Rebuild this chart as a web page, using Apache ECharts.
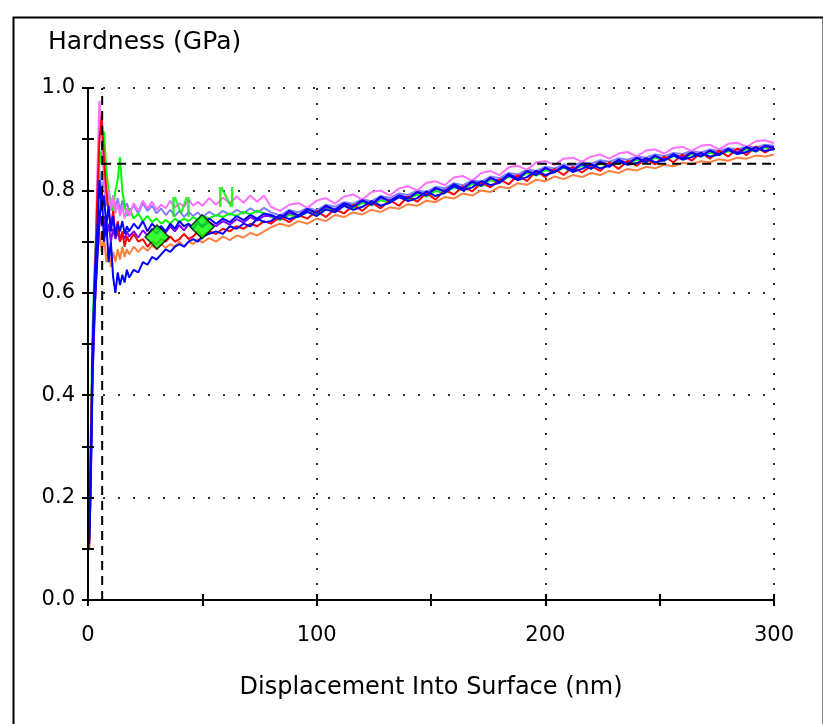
<!DOCTYPE html>
<html><head><meta charset="utf-8">
<script src="https://cdn.jsdelivr.net/npm/echarts@6/dist/echarts.min.js"></script>
<style>html,body{margin:0;padding:0;background:#fff}#c{width:823px;height:724px}</style>
</head><body><div id="c"></div>
<script>
// Displacement into surface (nm) sample positions shared by all indents
const depth = [0.5,1,1.5,2,3,4,5,6,7,8,9,10,11,12,13,14,15,16,17,18,
  20,22,24,26,28,30,32,34,36,38,40,42,44,46,48,50,
  53,56,59,62,65,68,71,74,77,
  80,84,88,92,96,100,104,108,112,116,120,124,128,132,136,140,144,148,152,156,
  160,164,168,172,176,180,184,188,192,196,200,204,208,212,216,220,224,228,232,236,
  240,244,248,252,256,260,264,268,272,276,280,284,288,292,296,300];

// Hardness (GPa) per indent
const lavender = [0.12,0.2,0.33,0.47,0.63,0.74,0.84,0.79,0.83,0.77,0.80,0.76,0.79,0.765,0.785,0.76,0.78,0.765,0.775,0.76,
  0.77,0.755,0.775,0.76,0.77,0.755,0.765,0.752,0.762,0.75,0.76,0.748,0.758,0.75,0.757,0.748,
  0.758,0.75,0.76,0.752,0.762,0.755,0.765,0.757,0.766,
  0.757,0.751,0.762,0.757,0.766,0.761,0.772,0.768,0.777,0.774,0.783,0.779,0.789,0.785,0.794,0.791,0.800,0.797,0.807,0.804,
  0.814,0.810,0.820,0.817,0.827,0.824,0.834,0.831,0.841,0.838,0.846,0.843,0.851,0.848,0.855,0.852,0.859,0.856,0.863,0.860,
  0.866,0.864,0.870,0.867,0.873,0.871,0.877,0.874,0.880,0.877,0.883,0.880,0.886,0.884,0.889,0.887];
const green = [0.12,0.26,0.40,0.53,0.66,0.77,0.85,0.88,0.915,0.84,0.80,0.78,0.76,0.80,0.82,0.865,0.80,0.77,0.75,0.765,
  0.745,0.755,0.74,0.75,0.738,0.745,0.735,0.742,0.735,0.745,0.738,0.745,0.74,0.748,0.742,0.75,
  0.745,0.752,0.748,0.755,0.75,0.758,0.753,0.76,0.755,
  0.748,0.742,0.752,0.748,0.758,0.753,0.764,0.759,0.770,0.765,0.776,0.771,0.781,0.776,0.787,0.782,0.792,0.788,0.799,0.795,
  0.806,0.801,0.813,0.808,0.820,0.815,0.827,0.822,0.834,0.829,0.840,0.835,0.844,0.840,0.848,0.843,0.852,0.847,0.856,0.851,
  0.860,0.855,0.864,0.858,0.867,0.862,0.871,0.866,0.874,0.869,0.877,0.872,0.881,0.876,0.884,0.879];
const magenta = [0.13,0.22,0.32,0.44,0.62,0.82,0.975,0.90,0.82,0.78,0.80,0.76,0.79,0.755,0.775,0.75,0.77,0.745,0.765,0.75,
  0.775,0.76,0.78,0.765,0.778,0.762,0.772,0.765,0.78,0.766,0.775,0.768,0.782,0.77,0.778,0.77,
  0.785,0.772,0.786,0.775,0.788,0.776,0.79,0.778,0.79,
  0.768,0.760,0.772,0.775,0.766,0.780,0.785,0.774,0.788,0.792,0.782,0.797,0.800,0.790,0.804,0.808,0.800,0.815,0.818,0.810,
  0.825,0.828,0.819,0.834,0.838,0.830,0.845,0.848,0.840,0.855,0.857,0.850,0.862,0.864,0.856,0.866,0.870,0.862,0.872,0.875,
  0.866,0.878,0.880,0.872,0.883,0.885,0.877,0.887,0.889,0.880,0.891,0.893,0.885,0.896,0.898,0.892];
const orange = [0.10,0.2,0.34,0.46,0.58,0.66,0.72,0.68,0.71,0.66,0.69,0.65,0.68,0.66,0.685,0.665,0.69,0.67,0.685,0.675,
  0.69,0.68,0.69,0.682,0.692,0.685,0.695,0.688,0.695,0.69,0.70,0.69,0.70,0.695,0.705,0.698,
  0.707,0.70,0.71,0.703,0.712,0.708,0.717,0.712,0.72,
  0.728,0.735,0.730,0.740,0.735,0.745,0.740,0.752,0.748,0.757,0.753,0.762,0.758,0.767,0.764,0.773,0.770,0.780,0.777,0.787,
  0.784,0.794,0.790,0.800,0.797,0.807,0.804,0.814,0.811,0.821,0.818,0.827,0.822,0.830,0.826,0.834,0.830,0.838,0.834,0.842,
  0.839,0.846,0.843,0.850,0.847,0.854,0.851,0.857,0.855,0.861,0.858,0.864,0.862,0.868,0.866,0.870];
const purple = [0.11,0.19,0.31,0.43,0.57,0.68,0.76,0.73,0.75,0.71,0.735,0.70,0.725,0.705,0.72,0.70,0.715,0.705,0.72,0.71,
  0.72,0.708,0.722,0.712,0.725,0.715,0.728,0.718,0.73,0.72,0.732,0.722,0.734,0.725,0.736,0.728,
  0.738,0.73,0.74,0.733,0.744,0.737,0.748,0.741,0.75,
  0.750,0.744,0.756,0.751,0.762,0.757,0.768,0.762,0.774,0.769,0.779,0.774,0.785,0.780,0.790,0.786,0.796,0.792,0.803,0.799,
  0.810,0.805,0.816,0.812,0.823,0.819,0.830,0.826,0.837,0.833,0.843,0.838,0.847,0.842,0.851,0.846,0.855,0.850,0.859,0.854,
  0.863,0.858,0.867,0.861,0.870,0.865,0.874,0.868,0.877,0.872,0.880,0.875,0.884,0.878,0.886,0.882];
const red = [0.10,0.25,0.38,0.48,0.62,0.78,0.90,0.945,0.86,0.80,0.76,0.73,0.76,0.71,0.74,0.70,0.72,0.69,0.71,0.70,
  0.715,0.70,0.705,0.69,0.70,0.695,0.705,0.70,0.71,0.70,0.705,0.715,0.705,0.71,0.72,0.71,
  0.72,0.715,0.725,0.72,0.73,0.725,0.735,0.73,0.74,
  0.735,0.748,0.738,0.752,0.745,0.760,0.748,0.763,0.755,0.772,0.760,0.776,0.765,0.781,0.770,0.788,0.778,0.795,0.782,0.801,
  0.792,0.808,0.798,0.815,0.806,0.822,0.812,0.830,0.818,0.838,0.826,0.842,0.830,0.846,0.835,0.848,0.838,0.855,0.842,0.858,
  0.848,0.862,0.851,0.866,0.855,0.870,0.858,0.874,0.862,0.878,0.866,0.882,0.869,0.886,0.874,0.884];
const blueB = [0.12,0.22,0.35,0.50,0.64,0.72,0.82,0.76,0.79,0.73,0.77,0.72,0.75,0.71,0.735,0.72,0.74,0.715,0.73,0.72,
  0.735,0.725,0.74,0.72,0.735,0.725,0.73,0.72,0.735,0.725,0.74,0.73,0.735,0.725,0.74,0.73,
  0.745,0.735,0.745,0.738,0.75,0.742,0.752,0.745,0.755,
  0.752,0.745,0.760,0.751,0.764,0.756,0.770,0.762,0.775,0.768,0.781,0.772,0.788,0.779,0.790,0.784,0.797,0.790,0.805,0.798,
  0.812,0.803,0.818,0.809,0.825,0.816,0.832,0.822,0.838,0.830,0.844,0.835,0.848,0.839,0.852,0.842,0.856,0.846,0.860,0.851,
  0.864,0.855,0.868,0.858,0.871,0.862,0.874,0.866,0.878,0.869,0.881,0.872,0.885,0.876,0.887,0.884];
const blueA = [0.11,0.18,0.30,0.45,0.58,0.66,0.74,0.80,0.70,0.74,0.66,0.70,0.63,0.60,0.64,0.615,0.635,0.62,0.645,0.63,
  0.645,0.64,0.66,0.655,0.67,0.665,0.675,0.685,0.68,0.69,0.695,0.69,0.70,0.705,0.70,0.71,
  0.715,0.72,0.715,0.73,0.725,0.735,0.73,0.745,0.738,
  0.740,0.752,0.744,0.749,0.758,0.750,0.763,0.757,0.770,0.762,0.768,0.779,0.770,0.776,0.787,0.779,0.785,0.798,0.789,0.795,
  0.808,0.800,0.806,0.818,0.810,0.815,0.829,0.820,0.826,0.838,0.830,0.836,0.846,0.836,0.842,0.851,0.843,0.848,0.857,0.850,
  0.853,0.863,0.855,0.859,0.868,0.860,0.865,0.873,0.866,0.870,0.879,0.871,0.875,0.884,0.877,0.881];

// Averaging-window markers
const markerDepth = [30.2, 49.9];
const markerHardness = [0.709, 0.729];
const markerLabels = ['M', 'N'];

// Reference lines
const refDepth = 6.2;
const refHardness = 0.852;

const curves = [
  ['lavender', lavender, '#8080ff'],
  ['green', green, '#00ff00'],
  ['magenta', magenta, '#ff70ff'],
  ['orange', orange, '#ff8040'],
  ['purple', purple, '#8000ff'],
  ['red', red, '#ff0000'],
  ['blueB', blueB, '#0000ff'],
  ['blueA', blueA, '#0000ff']
];

const FONT = 'DejaVu Sans';
const series = curves.map(([name, vals, color]) => ({
  name, type: 'line', xAxisIndex: 0, yAxisIndex: 0,
  data: depth.map((d, i) => [d, vals[i]]).filter(p => p[1] != null),
  showSymbol: false, symbol: 'none', animation: false,
  lineStyle: { color, width: 2 }
}));
series.push({
  name: 'refV', type: 'line', symbol: 'none', animation: false,
  data: [[refDepth, 0], [refDepth, 1]],
  lineStyle: { color: '#000', width: 2, type: [9, 6] }, z: 5
});
series.push({
  name: 'refH', type: 'line', symbol: 'none', animation: false,
  data: [[refDepth, refHardness], [300, refHardness]],
  lineStyle: { color: '#000', width: 2, type: [9, 6] }, z: 5
});
series.push({
  name: 'markers', type: 'scatter', animation: false, z: 10,
  symbol: 'diamond', symbolSize: [24, 24],
  itemStyle: { color: '#00ff00', borderColor: '#000', borderWidth: 1.5 },
  data: markerDepth.map((d, i) => ({ value: [d, markerHardness[i]], name: markerLabels[i] })),
  label: { show: true, formatter: p => p.name, position: 'inside', offset: [24, -27],
    color: '#00f000', fontSize: 26, fontFamily: FONT }
});

const tickStyle = { color: '#000', width: 2 };
const gridDots = { show: true, lineStyle: { color: '#333', width: 2, type: [2, 13] } };
const hiddenLabel = { show: true, color: 'rgba(0,0,0,0)', fontSize: 10 };

const option = {
  animation: false,
  backgroundColor: '#fff',
  grid: { left: 88, right: 49, top: 88, bottom: 124, containLabel: false },
  xAxis: [{
    type: 'value', min: 0, max: 300, interval: 100, position: 'bottom',
    axisLine: { show: true, lineStyle: tickStyle },
    axisTick: { show: true, length: 6, lineStyle: tickStyle },
    minorTick: { show: true, splitNumber: 2, length: 6, lineStyle: tickStyle },
    axisLabel: { margin: 25, fontSize: 21, color: '#000', fontFamily: FONT },
    splitLine: gridDots,
    name: 'Displacement Into Surface (nm)', nameLocation: 'middle', nameGap: 76,
    nameTextStyle: { fontSize: 24, color: '#000', fontFamily: FONT }
  }, {
    type: 'value', min: 0, max: 300, interval: 100, position: 'bottom', zlevel: 1,
    axisLine: { show: true, lineStyle: tickStyle },
    axisTick: { show: true, inside: true, length: 6, lineStyle: tickStyle },
    minorTick: { show: true, splitNumber: 2, length: 6, lineStyle: tickStyle },
    axisLabel: hiddenLabel, splitLine: { show: false }
  }],
  yAxis: [{
    type: 'value', min: 0, max: 1, interval: 0.2, position: 'left',
    axisLine: { show: true, lineStyle: tickStyle },
    axisTick: { show: true, length: 6, lineStyle: tickStyle },
    minorTick: { show: true, splitNumber: 2, length: 6, lineStyle: tickStyle },
    axisLabel: { margin: 13, fontSize: 21, color: '#000', fontFamily: FONT, formatter: v => v.toFixed(1) },
    splitLine: gridDots
  }, {
    type: 'value', min: 0, max: 1, interval: 0.2, position: 'left', zlevel: 1,
    axisLine: { show: true, lineStyle: tickStyle },
    axisTick: { show: true, inside: true, length: 6, lineStyle: tickStyle },
    minorTick: { show: true, splitNumber: 2, length: 6, lineStyle: tickStyle },
    axisLabel: hiddenLabel, splitLine: { show: false }
  }],
  graphic: [
    { type: 'rect', left: 11, top: 15, shape: { width: 810, height: 740 },
      style: { fill: 'none', stroke: '#000', lineWidth: 2 }, silent: true },
    { type: 'text', left: 48, top: 30,
      style: { text: 'Hardness (GPa)', fontSize: 25, fill: '#000', fontFamily: FONT } }
  ],
  series
};
const chart = echarts.init(document.getElementById('c'));
chart.setOption(option);
</script>
</body></html>
